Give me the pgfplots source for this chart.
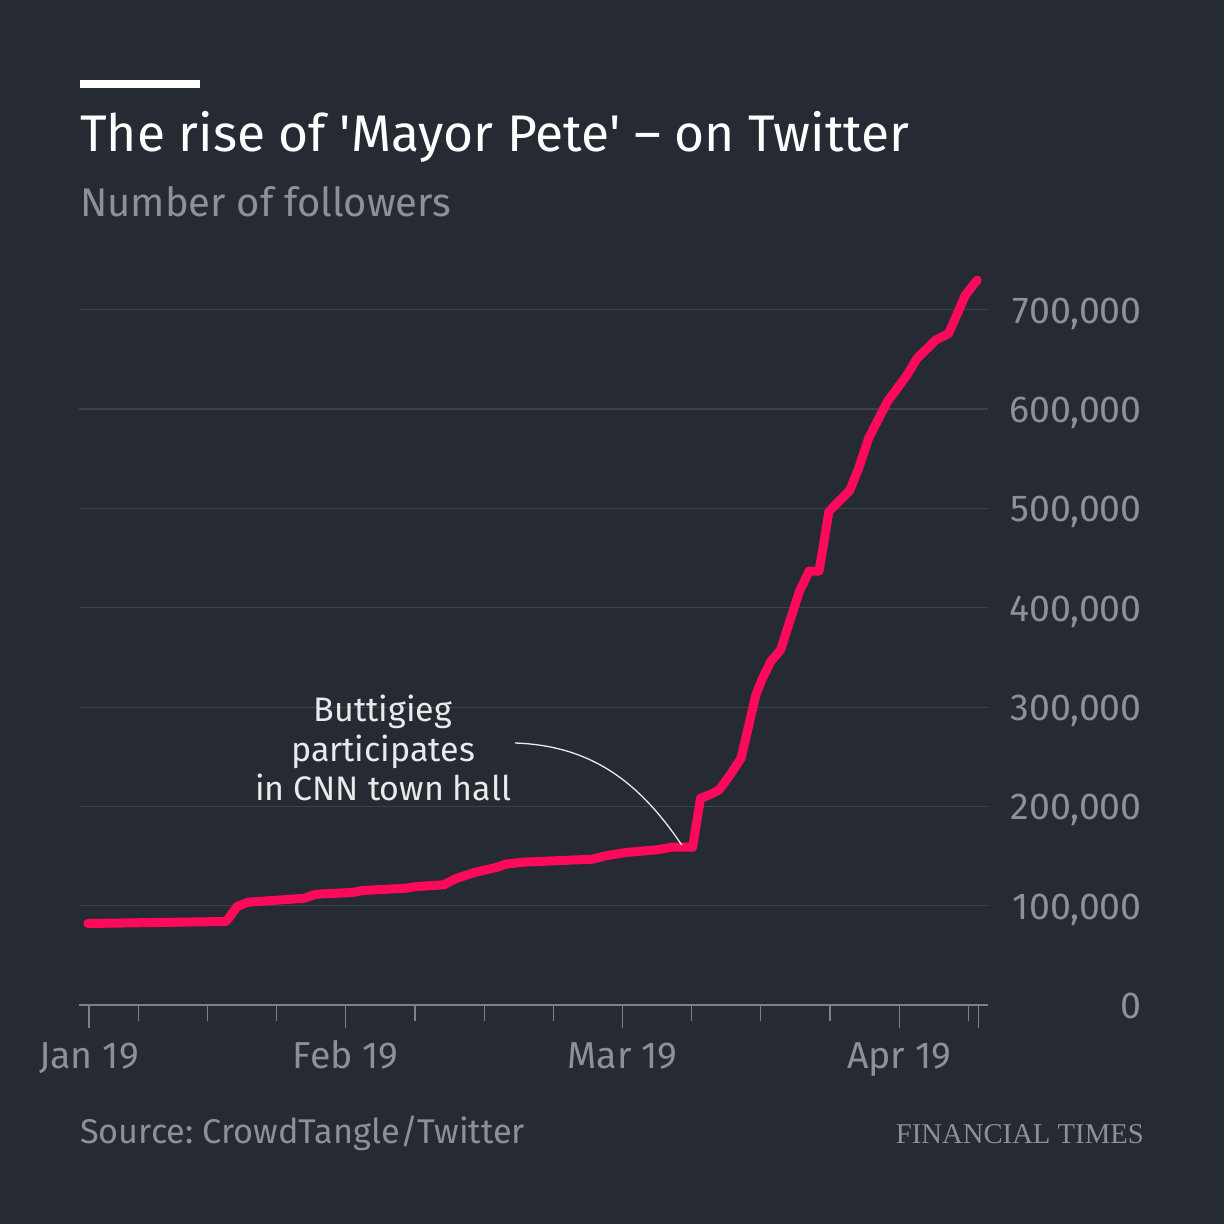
\documentclass[border=0pt]{standalone}
\usepackage{fontspec}
\setmainfont{Fira Sans}
\newfontfamily\ftserif{Liberation Serif}
\usepackage{graphicx}
\usepackage{pgfplots}
\pgfplotsset{compat=1.18}
\definecolor{bg}{HTML}{262A33}
\definecolor{subc}{HTML}{8E9096}
\definecolor{labc}{HTML}{8E9096}
\definecolor{gridc}{HTML}{3D4149}
\definecolor{axc}{HTML}{7D8087}
\definecolor{curvec}{HTML}{FF0A5A}
\definecolor{annc}{HTML}{EAEAEB}
\frenchspacing
\begin{document}
\begin{tikzpicture}[x=1pt,y=1pt]
\fill[bg] (0,0) rectangle (1224,1224);
\path[use as bounding box] (0,0) rectangle (1224,1224);
\fill[white] (80,1136) rectangle (200,1144);
\node[anchor=base west, inner sep=0, text=white, font=\fontsize{51.5}{60}\selectfont] at (80,1072.3) {The rise of \textquotesingle Mayor Pete\textquotesingle{} -- on Twitter};
\node[anchor=base west, inner sep=0, text=subc, font=\fontsize{40}{48}\selectfont] at (80,1007.3) {Number of followers};
\begin{axis}[
  at={(80,220.3)}, anchor=south west,
  scale only axis, width=909pt, height=695.4pt,
  xmin=7, xmax=99, ymin=0, ymax=700000,
  clip=false,
  scaled y ticks=false,
  axis x line*=bottom, axis y line*=right,
  x axis line style={draw=axc, line width=2pt, -},
  y axis line style={draw=none},
  xtick={8,34,62,90,98},
  xticklabels={Jan 19,Feb 19,Mar 19,Apr 19,{}},
  minor xtick={13,20,27,41,48,55,69,76,83,97},
  xtick align=outside,
  major tick length=23pt, minor tick length=16pt,
  xtick style={draw=axc, line width=1.2pt},
  ytick={0,100000,200000,300000,400000,500000,600000,700000},
  yticklabels={0,{100,000},{200,000},{300,000},{400,000},{500,000},{600,000},{700,000}},
  ytick style={draw=none},
  ymajorgrids, grid style={draw=gridc, line width=1.2pt},
  ticklabel style={font=\fontsize{37.5}{42}\selectfont, text=labc, inner sep=0pt},
  xticklabel style={anchor=base, yshift=-40.6pt},
  yticklabel style={anchor=base east, xshift=154pt, yshift=-13.4pt},
]
\addplot[curvec, line width=9pt, line join=round, line cap=round] coordinates {
(7.9,82200) (21.9,84200) (23.0,99300) (24.1,103600) (29.8,107600) (31.0,111700)
(34.7,113400) (35.7,115400) (40.1,117700) (41.1,119400) (43.9,121100) (45.1,127200)
(47.0,133500) (49.3,138800) (50.2,141900) (51.9,143900) (58.9,146900) (60.3,150300)
(62.3,153600) (65.4,156300) (67.0,159000) (69.1,159000) (69.9,208200) (70.8,211700)
(71.8,216700) (72.9,231800) (74.0,248500) (75.5,312300) (76.1,327400) (77.0,345800)
(78.0,357500) (79.9,416200) (80.9,437000) (81.9,437000) (82.9,497000) (85.0,518000)
(85.9,540200) (86.9,570400) (88.8,607300) (90.8,634200) (91.8,650900) (93.7,669400)
(95.0,676000) (95.9,696200) (96.7,714700) (97.9,729800)
};
\end{axis}
\draw[annc, line width=1.3pt] (515,481) to[out=-2,in=124] (681.7,379);
\node[anchor=base, inner sep=0, text=annc, font=\fontsize{34}{40}\selectfont] at (383,502.3) {Buttigieg};
\node[anchor=base, inner sep=0, text=annc, font=\fontsize{34}{40}\selectfont] at (383,462.3) {participates};
\node[anchor=base, inner sep=0, text=annc, font=\fontsize{34}{40}\selectfont] at (383,423.3) {in CNN town hall};
\node[anchor=base west, inner sep=0, text=labc, font=\fontsize{34.3}{40}\selectfont] at (80,80) {Source: CrowdTangle/Twitter};
\node[anchor=base east, inner sep=0, text=labc, font=\ftserif\fontsize{28.7}{32}\selectfont] at (1144,80.7) {FINANCIAL TIMES};
\end{tikzpicture}
\end{document}
